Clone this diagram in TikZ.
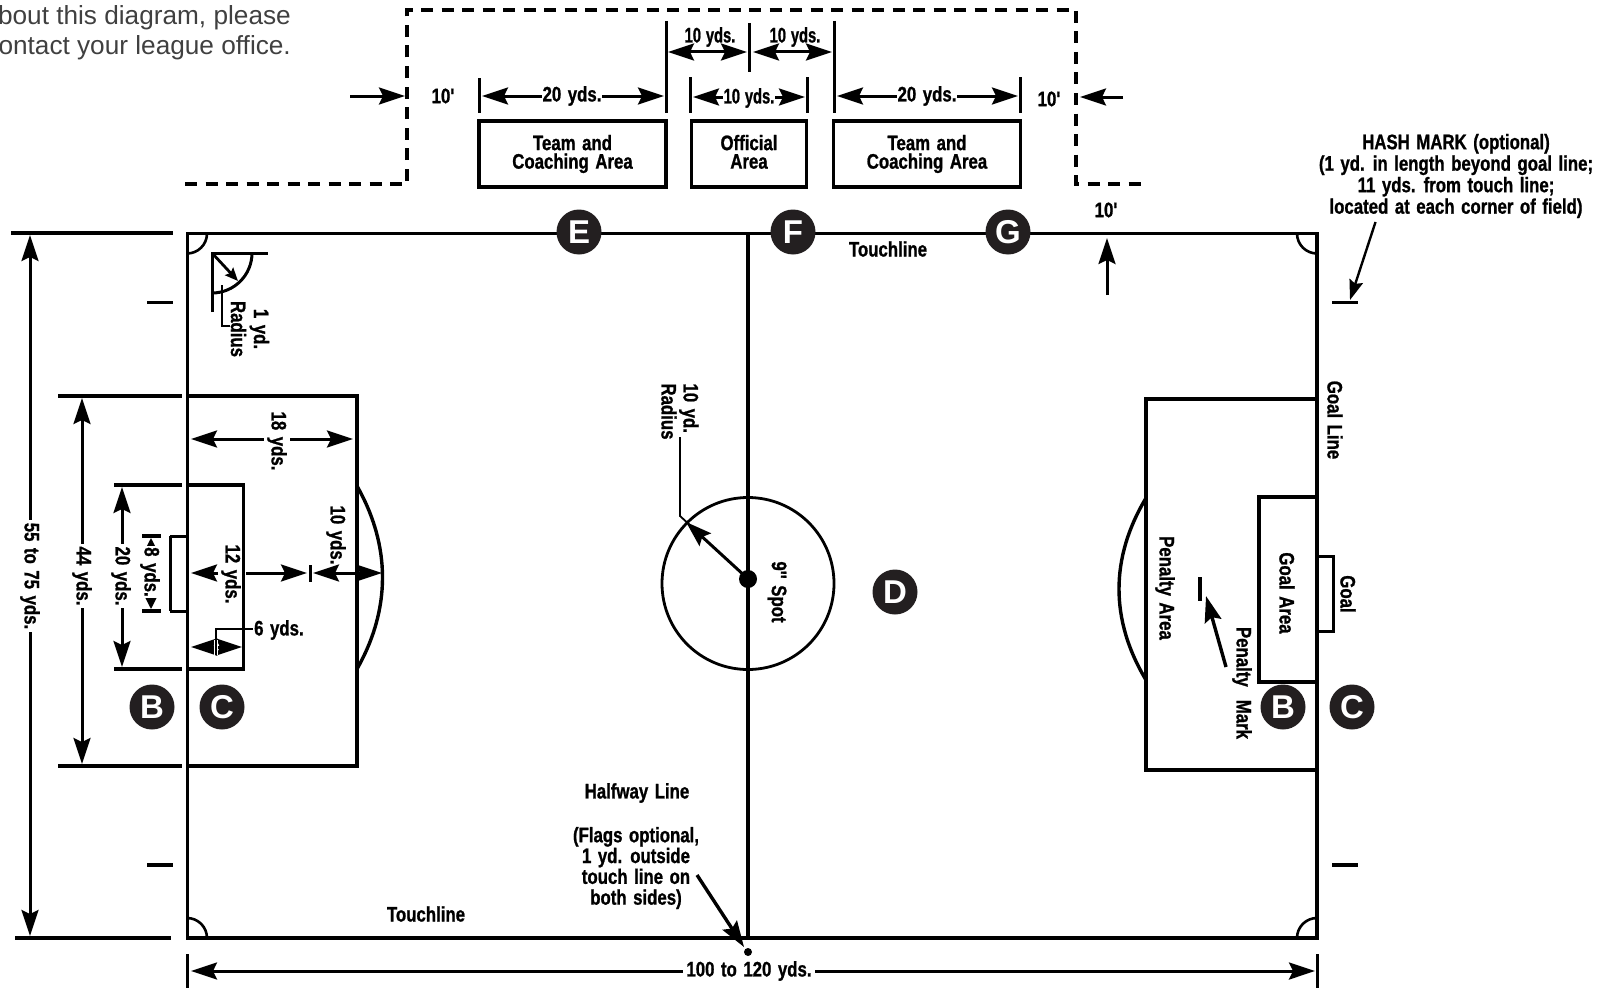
\documentclass[tikz,border=0pt]{standalone}
\usepackage{fontspec}
\usetikzlibrary{arrows.meta}
\newfontfamily\dimfont[FakeStretch=0.8,FakeBold=1,WordSpace=1.4]{Liberation Sans Bold}
\newfontfamily\dimnarrow[FakeStretch=0.7,FakeBold=1,WordSpace=1.2]{Liberation Sans Bold}
\newfontfamily\notefont{Liberation Sans}
\newfontfamily\letterfont{Liberation Sans Bold}
\definecolor{inkblack}{HTML}{231F20}
\tikzset{
  fieldline/.style={line width=3.6pt, line cap=rect},
  tickline/.style={line width=3pt},
  dashline/.style={line width=3.6pt, dash pattern=on 12pt off 8.5pt},
  dimline/.style={line width=3pt, {Stealth[length=26pt,width=17pt,inset=4pt]}-{Stealth[length=26pt,width=17pt,inset=4pt]}},
  oneway/.style={line width=3pt, -{Stealth[length=26pt,width=17pt,inset=4pt]}},
  leader/.style={line width=1.8pt},
  dimlabel/.style={font=\dimfont\fontsize{21}{21}\selectfont, inner sep=2pt, align=center},
  narrowlabel/.style={dimlabel, font=\dimnarrow\fontsize{21}{21}\selectfont},
  sidelabel/.style={dimlabel, rotate=-90},
  lettermark/.style={circle, fill=inkblack, minimum size=45pt, inner sep=0pt, text=white,
    font=\letterfont\fontsize{33}{33}\selectfont},
  areabox/.style={draw, line width=3.6pt, fill=white, minimum height=66pt, dimlabel,
    font=\dimfont\fontsize{21}{18.5}\selectfont, line cap=rect}
}
\begin{document}
\begin{tikzpicture}[x=1pt, y=-1pt]
\useasboundingbox (0,0) rectangle (1613,990);

% note at top left
\node[anchor=east, align=right, inner sep=0pt, text=black!75, font=\notefont\fontsize{26.2}{29.8}\selectfont] (note) at (291,33) {bout this diagram, please\\ontact your league office.};

% technical area
\draw[dashline] (185,184) -- (407,184) -- (407,10) -- (1076,10) -- (1076,184) -- (1147,184);
\node[areabox, minimum width=187pt] (teamleft) at (572.5,154) {Team and\\Coaching Area};
\node[areabox, minimum width=115pt] (official) at (749,154) {Official\\Area\vphantom{g}};
\node[areabox, minimum width=187pt] (teamright) at (927,154) {Team and\\Coaching Area};

\draw[tickline] (479,78) -- (479,113);
\draw[tickline] (666,21) -- (666,113);
\draw[tickline] (690,77) -- (690,113);
\draw[tickline] (749,23) -- (749,72);
\draw[tickline] (807,77) -- (807,113);
\draw[tickline] (834,21) -- (834,113);
\draw[tickline] (1020.5,77) -- (1020.5,113);

\draw[dimline] (668,52) -- (747,52);
\draw[dimline] (753,52) -- (832,52);
\node[narrowlabel] (teneast) at (710,37) {10 yds.};
\node[narrowlabel] (tenwest) at (795,37) {10 yds.};
\draw[dimline] (482,96) -- (664,96);
\node[dimlabel, fill=white, inner sep=1pt] (twentyleft) at (572,96) {20 yds.};
\draw[dimline] (693,97) -- (805,97);
\node[narrowlabel, fill=white, inner sep=1pt] (tenmid) at (749,98) {10 yds.};
\draw[dimline] (837,96) -- (1018,96);
\node[dimlabel, fill=white, inner sep=1pt] (twentyright) at (927,96) {20 yds.};

\draw[oneway] (350,96) -- (405,96);
\node[dimlabel] (tenftleft) at (443,96) {10'};
\draw[oneway] (1123,97) -- (1080,97);
\node[dimlabel] (tenftright) at (1049,99) {10'};
\node[dimlabel] (tenftup) at (1106,210) {10'};
\draw[oneway] (1107,295) -- (1107,238);

% field
\draw[fieldline] (187.5,233.5) rectangle (1317,938);
\draw[fieldline] (748,233.5) -- (748,938);
\draw[line width=2.6pt] (207,233.5) arc[start angle=0, end angle=90, radius=20];
\draw[line width=2.6pt] (1297,233.5) arc[start angle=180, end angle=90, radius=20];
\draw[line width=2.6pt] (207,938) arc[start angle=0, end angle=-90, radius=20];
\draw[line width=2.6pt] (1297,938) arc[start angle=180, end angle=270, radius=20];

% center circle
\draw[line width=2.8pt] (748,583.5) circle[radius=86];
\fill (748,579) circle[radius=9];
\draw[oneway] (746,577) -- (686,522);
\draw[leader] (680,437) -- (680,516) -- (692,527);
\node[sidelabel, align=left, font=\dimfont\fontsize{21}{22}\selectfont] (tenradius) at (680,411.5) {10 yd.\\Radius};
\node[sidelabel] (spot) at (777,592) {9'' Spot};

% left penalty area
\draw[fieldline] (187.5,396) -- (357,396) -- (357,766) -- (187.5,766);
\draw[fieldline] (187.5,485) -- (243.5,485) -- (243.5,669) -- (187.5,669);
\draw[line width=3pt] (170,536) -- (170,611);
\draw[line width=3pt] (170,536) -- (187,536);
\draw[line width=3pt] (170,611) -- (187,611);
\draw[line width=3.4pt] (357,486) .. controls (391,546) and (391,609) .. (357,669);

% left dimensions
\draw[tickline, line width=3.4pt] (11,233) -- (173,233);
\draw[tickline, line width=3.4pt] (15,938) -- (171,938);
\draw[tickline, line width=3.4pt] (58,396) -- (182,396);
\draw[tickline, line width=3.4pt] (58,766) -- (182,766);
\draw[tickline, line width=3.4pt] (114,485) -- (182,485);
\draw[tickline, line width=3.4pt] (114,669) -- (182,669);
\draw[tickline, line width=3.4pt] (142,536) -- (161,536);
\draw[tickline, line width=3.4pt] (142,611) -- (161,611);
\draw[tickline, line width=3.4pt] (147,302.5) -- (173,302.5);
\draw[tickline, line width=3.4pt] (147,865) -- (173,865);
\draw[tickline, line width=3.4pt] (1332,302.5) -- (1358,302.5);
\draw[tickline, line width=3.4pt] (1332,865) -- (1358,865);

\draw[dimline] (30,235) -- (30,936);
\node[sidelabel, fill=white, inner sep=3pt] (width) at (30,576) {55 to 75 yds.};
\draw[dimline] (82,398) -- (82,764);
\node[sidelabel, fill=white, inner sep=3pt] (penwidth) at (82,576) {44 yds.};
\draw[dimline] (122,487) -- (122,667);
\node[sidelabel, fill=white, inner sep=3pt] (goalwidth) at (121,576) {20 yds.};
\draw[line width=2.2pt, {Stealth[length=13pt,width=13pt,inset=2pt]}-{Stealth[length=13pt,width=13pt,inset=2pt]}] (151,538) -- (151,609);
\node[sidelabel, fill=white, inner sep=1pt] (goalsize) at (150,572) {8 yds.};

\draw[dimline] (191,439) -- (353,439);
\node[sidelabel, fill=white, inner sep=3pt] (penlength) at (277,441) {18 yds.};
\draw[oneway] (218,573) -- (191,573);
\draw[oneway] (246,573) -- (307,573);
\node[sidelabel] (spotdist) at (231,574) {12 yds.};
\draw[tickline] (310,565) -- (310,582);
\draw[dimline] (313,573) -- (382,573);
\node[sidelabel] (arcdist) at (336,535) {10 yds.};
\draw[dimline] (191,647) -- (242,647);
\draw[white, line width=3.4pt] (216,655) -- (216,640);
\draw[leader] (216,655) -- (216,629) -- (253,629);
\node[dimlabel, anchor=west, inner sep=0pt] (goaldepth) at (254,630) {6 yds.};

% corner radius detail
\draw[tickline] (212,312) -- (212,253) -- (268,253);
\draw[line width=3pt] (252,253) arc[start angle=0, end angle=90, radius=40];
\draw[line width=2.8pt, -{Stealth[length=13pt,width=11pt,inset=2pt]}] (212,253) -- (238,281);
\draw[leader] (222,285) -- (222,326) -- (230,326);
\node[sidelabel, font=\dimfont\fontsize{21}{23}\selectfont] (cornerradius) at (250,329) {1 yd.\\Radius};

% right penalty area
\draw[fieldline] (1317,399) -- (1146,399) -- (1146,770) -- (1317,770);
\draw[fieldline] (1317,497) -- (1259,497) -- (1259,682) -- (1317,682);
\draw[line width=3pt] (1317,556) -- (1333,556) -- (1333,631) -- (1317,631);
\draw[line width=3.4pt] (1146,498) .. controls (1110,558) and (1110,620) .. (1146,680);
\draw[tickline, line width=3.6pt] (1200,577) -- (1200,601);
\draw[line width=3.4pt, -{Stealth[length=26pt,width=17pt,inset=4pt]}] (1226,667) -- (1206,596);
\node[sidelabel] (goalline) at (1335,420) {Goal Line};
\node[sidelabel] (goalarea) at (1287,593) {Goal Area};
\node[sidelabel] (goal) at (1348,594) {Goal};
\node[sidelabel] (penaltyarea) at (1165,588) {Penalty Area};
\node[sidelabel] (penaltymark) at (1242,683) {Penalty\ \ Mark};

% letters on the field
\node[lettermark] (markE) at (579,232) {E};
\node[lettermark] (markF) at (793,232) {F};
\node[lettermark] (markG) at (1008,232) {G};
\node[lettermark] (markD) at (895,592) {D};
\node[lettermark] (markBleft) at (152,707) {B};
\node[lettermark] (markCleft) at (222,707) {C};
\node[lettermark] (markBright) at (1283,707) {B};
\node[lettermark] (markCright) at (1352,707) {C};

% other labels
\node[dimlabel] (topline) at (888,249) {Touchline};
\node[dimlabel] (bottomline) at (426,914) {Touchline};
\node[dimlabel] (halfway) at (637,793) {Halfway Line};
\node[dimlabel, font=\dimfont\fontsize{21}{20.8}\selectfont] (flags) at (636,868) {(Flags optional,\\1 yd. outside\\touch line on\\both sides)};
\draw[line width=3.4pt, -{Stealth[length=26pt,width=17pt,inset=4pt]}] (697,875) -- (744,947);
\fill (748,952) circle[radius=4];

\node[dimlabel, font=\dimfont\fontsize{21}{21.5}\selectfont] (hashnote) at (1456,176) {HASH MARK (optional)\\(1 yd. in length beyond goal line;\\11 yds. from touch line;\\located at each corner of field)};
\draw[line width=2.4pt, -{Stealth[length=20pt,width=14pt,inset=3pt]}] (1375.5,222) -- (1350,300);

% length of the field
\draw[tickline] (187.5,954) -- (187.5,988);
\draw[tickline] (1317,954) -- (1317,988);
\draw[dimline] (191,971) -- (1315,971);
\node[dimlabel, fill=white, inner sep=3pt] (length) at (749,971) {100 to 120 yds.};
\end{tikzpicture}
\end{document}
